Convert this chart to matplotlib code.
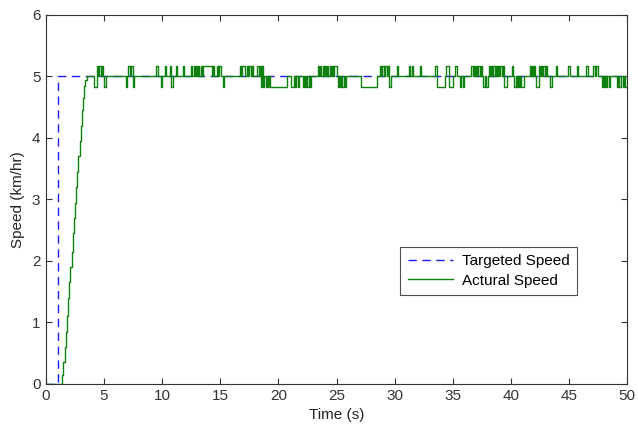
import numpy as np
import matplotlib
matplotlib.use("Agg")
import matplotlib.pyplot as plt

plt.rcParams['font.family'] = ['Liberation Sans', 'DejaVu Sans']

# Targeted speed: step from 0 to 5 km/hr at t = 1 s
target_t = [0.0, 1.0, 1.0, 50.0]
target_v = [0.0, 0.0, 5.0, 5.0]

# Actual speed: ramp (sampled every 0.1 s starting at 1.4 s)
ramp_start = 1.4
ramp_v = [0.15, 0.35, 0.6, 0.85, 1.1, 1.4, 1.65, 1.9, 2.15, 2.45, 2.7,
          2.95, 3.2, 3.45, 3.7, 3.95, 4.2, 4.45, 4.65, 4.85, 4.95, 5.0]

# Fluctuation code per 0.1 s sample, one string per second of time:
# '0' = 5.00, '+' = 5.17, '-' = 4.83
level_code = [
    "0000000000", "0000000000", "0000000000", "0000000000",
    "0---+0+0+0", "--00000000", "000000000-", "0+0++-0000",
    "0000000000", "00000+000-", "00+0000+-0", "00+00000+0",
    "00000+0+0+", "0+0+0+++++", "+++0+00+0+", "+0-0000000",
    "0000000+0+", "+00+0+0+00", "00+0+-+-0-", "0-0-------",
    "-------000", "0--0-00-00", "0-0-0-0-00", "0000+0+0+0",
    "+0+0+0+0++", "0-0-0-0-00", "0000000000", "0---------",
    "-----00+0+", "+0+0+--000", "00+0000000", "00+00+0000",
    "00+0000000", "00000+----", "---0+++---", "00++00-00-",
    "000000+0+0", "+0+0+0--0-", "0+0+0+0+0+", "0+0+---000",
    "0+0-0-0-0-", "-00000+0+0", "+0--+0+0+0", "+000-0000+",
    "000000000+", "+000000+00", "00000+0000", "0+0++000-0",
    "-0-0-00000", "0-0--0-0--",
]
level_value = {'0': 5.0, '+': 5.17, '-': 4.83}

dt = 0.1
code = "".join(level_code)
n = len(code)
t = np.arange(n + 1) * dt
v = np.array([level_value[c] for c in code] + [level_value[code[-1]]])
i0 = int(round(ramp_start / dt))
v[:i0] = 0.0
v[i0:i0 + len(ramp_v)] = ramp_v

x_ticks = list(range(0, 51, 5))
y_ticks = list(range(0, 7))

fig = plt.figure(figsize=(6.38, 4.28), dpi=100)
ax = fig.add_axes([0.072, 0.103, 0.911, 0.862])

ax.plot(target_t, target_v, color=(0.1, 0.1, 1.0), linestyle=(0, (6, 4)),
        linewidth=1.0, label='Targeted Speed')
ax.step(t, v, where='post', color=(0.05, 0.5, 0.05), linewidth=1.0,
        label='Actural Speed')

ax.set_xlim(0, 50)
ax.set_ylim(0, 6)
ax.set_xticks(x_ticks)
ax.set_yticks(y_ticks)
ax.tick_params(direction='in', top=True, right=True, length=4,
               labelsize=11, colors='#333333', width=0.8, pad=4)
for s in ax.spines.values():
    s.set_color('#333333')
    s.set_linewidth(0.8)
ax.set_xlabel('Time (s)', fontsize=11, color='#222222', labelpad=3)
ax.set_ylabel('Speed (km/hr)', fontsize=11, color='#222222', labelpad=5)

leg = ax.legend(loc='upper left', bbox_to_anchor=(0.609, 0.372),
                fontsize=11, frameon=True, fancybox=False,
                handlelength=3.0, borderpad=0.5, labelspacing=0.35,
                handletextpad=0.55, borderaxespad=0.0)
leg.get_frame().set_edgecolor('#222222')
leg.get_frame().set_linewidth(0.8)

fig.savefig('out.png', dpi=100)
